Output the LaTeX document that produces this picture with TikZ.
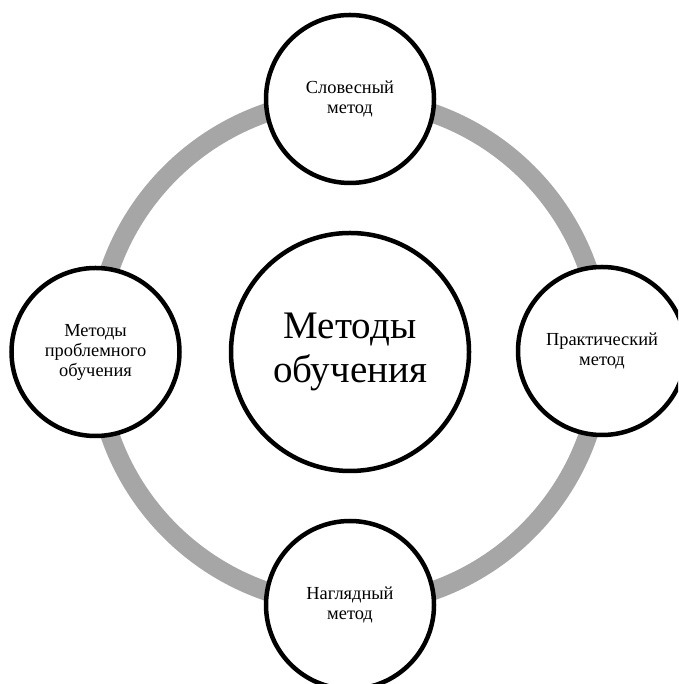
\documentclass[tikz,border=0pt]{standalone}
\usepackage{fontspec}
\setmainfont{Liberation Serif}
\begin{document}
\begin{tikzpicture}[x=1pt,y=1pt,
  ring/.style={draw=ringgray,line width=19pt},
  sat/.style={circle,draw=black,fill=white,line width=4.5pt,minimum size=168pt,inner sep=0pt,align=center,
    font=\fontsize{18.4}{20}\selectfont},
  hub/.style={circle,draw=black,fill=white,line width=4.5pt,minimum size=238pt,inner sep=0pt,align=center,
    font=\fontsize{39}{44}\selectfont}]
\definecolor{ringgray}{RGB}{166,166,166}
\useasboundingbox (0,0) rectangle (678,684);
\clip (0,0) rectangle (678,684);
\coordinate (c) at (349,332);
\draw[ring] (c) circle[radius=253pt];
\node[hub] (hub) at (350,332) {Методы\\обучения};
\node[sat] (top) at (350,585) {Словесный\\метод};
\node[sat] (right) at (602,333) {Практический\\метод};
\node[sat] (bottom) at (350,79) {Наглядный\\метод};
\node[sat] (left) at (95.5,332) {Методы\\проблемного\\обучения};
\end{tikzpicture}
\end{document}
